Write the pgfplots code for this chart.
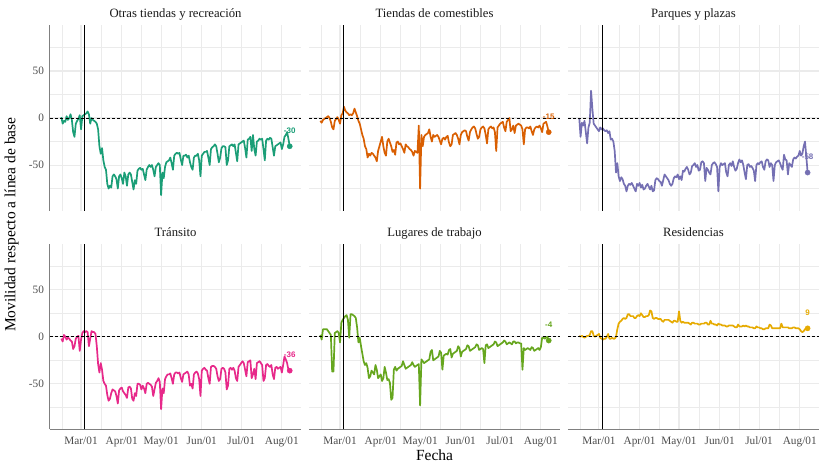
\documentclass[border=0pt]{standalone}
\usepackage{pgfplots}
\usepackage{pgfplotstable}
\usepackage{fontspec}
\pgfplotsset{compat=1.18}
\setmainfont{Liberation Serif}
\newfontfamily\lsans{Liberation Sans}

\definecolor{c1}{HTML}{1B9E77}
\definecolor{c2}{HTML}{D95F02}
\definecolor{c3}{HTML}{7570B3}
\definecolor{c4}{HTML}{E7298A}
\definecolor{c5}{HTML}{66A61E}
\definecolor{c6}{HTML}{E6AB02}
\definecolor{gridc}{HTML}{EBEBEB}

% d = dias desde 2020-03-01
\pgfplotstableread{
d v1 v2 v3 v4 v5 v6
-15 1 -3 0 -2 2 1
-14 -6 -5 -20 -5 -3 0
-13 -3 -2 -5 2 8 1
-12 -4 -1 -8 0 8 0
-11 2 0 -3 -3 8 -1
-10 -2 1 -15 -1 8 0
-9 0 2 -27 -2 6 1
-8 4 0 -10 -4 4 1
-7 -2 -4 -5 -5 2 2
-6 -15 -10 29 -13 -37 6
-5 -20 -12 10 -10 -37 6
-4 -6 -3 -6 -2 4 1
-3 -3 -1 -8 0 5 0
-2 -1 1 -10 1 6 1
-1 3 -2 -12 -15 4 2
0 -12 -6 -14 -3 -6 3
1 2 3 -10 4 15 -1
2 3 5 -12 6 18 -2
3 4 12 -11 5 20 -3
4 5 8 -13 6 22 -2
5 7 6 -14 5 23 -2
6 4 5 -13 -10 18 0
7 -6 3 -16 -2 -1 3
8 0 4 -14 6 24 -2
9 -2 3 -23 5 24 -2
10 -3 5 -22 5 23 -1
11 -4 10 -25 3 22 -2
12 -6 6 -35 -10 20 -2
13 -12 2 -58 -29 10 0
14 -30 -3 -48 -38 -6 8
15 -38 -6 -62 -28 -1 14
16 -32 -12 -67 -35 -10 16
17 -45 -18 -63 -47 -18 17
18 -52 -22 -65 -50 -26 19
19 -55 -30 -70 -52 -30 20
20 -70 -33 -72 -62 -28 19
21 -75 -42 -78 -68 -33 20
22 -72 -38 -72 -66 -44 24
23 -74 -40 -70 -60 -42 24
24 -62 -37 -71 -56 -36 22
25 -60 -38 -69 -57 -38 22
26 -62 -40 -72 -58 -40 22
27 -65 -42 -75 -63 -30 20
28 -75 -46 -78 -71 -35 20
29 -62 -35 -70 -57 -44 22
30 -60 -30 -72 -55 -42 23
31 -64 -25 -69 -54 -40 22
32 -70 -20 -74 -58 -47 25
33 -58 -30 -71 -60 -44 23
34 -62 -37 -76 -62 -32 21
35 -72 -40 -75 -65 -38 21
36 -60 -25 -72 -54 -46 22
37 -58 -22 -70 -53 -45 22
38 -60 -26 -73 -55 -49 23
39 -68 -30 -76 -66 -67 28
40 -76 -36 -72 -68 -65 27
41 -66 -34 -78 -60 -35 20
42 -70 -39 -77 -63 -32 19
43 -56 -26 -66 -50 -36 20
44 -54 -25 -64 -50 -34 20
45 -53 -28 -65 -51 -33 19
46 -55 -27 -67 -56 -32 19
47 -54 -30 -68 -52 -31 19
48 -60 -33 -72 -55 -26 17
49 -66 -37 -66 -60 -30 16
50 -55 -28 -60 -50 -34 18
51 -52 -30 -62 -49 -33 18
52 -50 -31 -64 -50 -32 18
53 -52 -33 -66 -51 -31 18
54 -50 -34 -70 -53 -30 17
55 -55 -36 -72 -63 -27 16
56 -62 -40 -70 -56 -30 15
57 -52 -35 -64 -49 -32 17
58 -50 -36 -62 -47 -31 17
59 -48 -37 -63 -44 -30 16
60 -50 -8 -60 -48 -29 16
61 -82 -75 -65 -77 -73 27
62 -58 -18 -62 -55 -24 17
63 -64 -30 -66 -60 -26 15
64 -52 -20 -56 -45 -28 16
65 -47 -18 -57 -42 -27 15
66 -46 -17 -54 -40 -26 15
67 -45 -16 -52 -40 -25 15
68 -42 -12 -55 -39 -24 15
69 -48 -20 -60 -44 -16 14
70 -55 -25 -58 -50 -14 13
71 -40 -18 -51 -40 -25 15
72 -38 -20 -50 -38 -24 15
73 -37 -19 -48 -38 -23 14
74 -38 -18 -52 -39 -22 14
75 -37 -20 -50 -38 -21 14
76 -44 -24 -56 -44 -15 13
77 -50 -28 -55 -48 -17 13
78 -40 -22 -47 -40 -35 14
79 -40 -21 -46 -39 -20 14
80 -39 -23 -48 -38 -19 14
81 -42 -20 -67 -37 -18 15
82 -40 -19 -53 -40 -19 15
83 -47 -26 -55 -52 -14 13
84 -52 -30 -58 -50 -13 13
85 -55 -28 -60 -55 -22 17
86 -42 -18 -50 -40 -18 14
87 -40 -17 -48 -38 -17 14
88 -40 -16 -47 -37 -16 13
89 -38 -18 -49 -39 -15 13
90 -45 -22 -52 -45 -10 12
91 -62 -28 -78 -63 -12 14
92 -40 -18 -52 -36 -21 13
93 -38 -15 -48 -34 -16 13
94 -36 -14 -50 -33 -15 12
95 -36 -13 -49 -35 -14 12
96 -35 -14 -48 -36 -13 12
97 -42 -20 -58 -44 -9 11
98 -50 -24 -62 -50 -10 11
99 -33 -15 -50 -32 -15 12
100 -31 -12 -48 -31 -14 12
101 -30 -10 -51 -31 -13 12
102 -28 -9 -46 -32 -12 12
103 -30 -11 -52 -34 -11 11
104 -38 -17 -56 -42 -8 10
105 -47 -22 -54 -47 -9 10
106 -42 -20 -48 -45 -14 13
107 -32 -12 -44 -34 -13 11
108 -30 -10 -47 -33 -12 11
109 -30 -9 -45 -34 -13 11
110 -31 -11 -50 -38 -28 12
111 -50 -18 -58 -56 -9 11
112 -45 -27 -65 -52 -8 12
113 -30 -12 -50 -34 -12 11
114 -29 -10 -49 -33 -11 11
115 -28 -9 -52 -35 -10 10
116 -30 -11 -51 -33 -9 10
117 -28 -10 -53 -36 -8 10
118 -37 -15 -56 -44 -5 9
119 -46 -35 -67 -47 -6 9
120 -28 -10 -50 -32 -10 11
121 -27 -8 -48 -30 -9 10
122 -26 -6 -49 -28 -8 10
123 -25 -5 -47 -26 -7 9
124 -24 -4 -46 -28 -6 9
125 -32 -10 -52 -35 -4 8
126 -42 -14 -55 -42 -5 8
127 -23 -4 -46 -27 -8 9
128 -22 -2 -44 -26 -7 9
129 -20 0 -45 -25 -6 9
130 -35 -14 -52 -44 -7 13
131 -18 -12 -48 -40 -8 12
132 -33 -8 -50 -34 -5 9
133 -40 -16 -67 -45 -5 9
134 -25 -8 -50 -28 -7 9
135 -24 -7 -47 -27 -6 9
136 -22 -6 -46 -26 -6 9
137 -23 -7 -45 -28 -7 9
138 -22 -8 -48 -30 -7 9
139 -33 -12 -52 -47 -35 14
140 -45 -28 -55 -44 -12 10
141 -24 -12 -39 -30 -14 10
142 -22 -10 -44 -29 -13 10
143 -23 -10 -45 -31 -12 10
144 -21 -11 -60 -32 -13 10
145 -22 -9 -48 -30 -14 9
146 -31 -14 -50 -40 -11 9
147 -40 -18 -52 -45 -12 9
148 -30 -12 -44 -33 -15 10
149 -29 -10 -42 -32 -14 10
150 -28 -9 -43 -34 -13 9
151 -27 -10 -41 -33 -12 9
152 -26 -8 -40 -32 -14 9
153 -33 -11 -35 -38 -11 8
154 -28 -15 -40 -30 -1 6
155 -20 -6 -38 -21 -1 5
156 -18 -5 -30 -24 -2 6
157 -15 -4 -25 -28 -1 8
158 -22 -9 -41 -35 0 9
159 -30 -15 -58 -36 -4 9
}\datos

\pgfplotsset{
  panel/.style={
    scale only axis, width=251.5pt, height=186pt, anchor=south west,
    xmin=-23.7, xmax=167.7, ymin=-98.6, ymax=99,
    xtick={0,31,61,92,122,153},
    xticklabels={Mar/01,Apr/01,May/01,Jun/01,Jul/01,Aug/01},
    ytick={-50,0,50}, yticklabels={-50,0,50},
    minor xtick={-14.5,15.5,46,76.5,107,137.5},
    minor ytick={-75,-25,25,75},
    grid=both,
    major grid style={draw=gridc, line width=1.1pt},
    minor grid style={draw=gridc, line width=0.6pt},
    separate axis lines,
    axis x line*=bottom, axis y line*=left,
    axis line style={draw=black!50, line width=0.9pt},
    tick style={draw=none},
    ticklabel style={font=\fontsize{11.3}{13}\selectfont, text=black!70},
    xticklabel style={yshift=-4pt},
    yticklabel style={xshift=-2.5pt},
    title style={at={(0.5,1)}, anchor=base, yshift=1.5pt,
      font=\fontsize{12.7}{14}\selectfont, text=black!90},
  },
  nox/.style={x axis line style={draw=none}, xticklabels={}},
  noy/.style={y axis line style={draw=none}, yticklabels={}},
  serie/.style={#1, line width=1.7pt, line join=round},
  zeroline/.style={black, line width=0.7pt, dash pattern=on 3pt off 2.2pt},
  vline/.style={black, line width=1.0pt},
  fin/.style={#1, only marks, mark=*, mark size=2.6pt,
    every node near coord/.style={anchor=center, yshift=15.5pt,
      font=\lsans\bfseries\fontsize{8}{9}\selectfont, text=#1}},
}

\begin{document}
\begin{tikzpicture}
\path (0,0) rectangle (820pt,464pt);

\begin{axis}[panel, nox, at={(50pt,253pt)}, title={Otras tiendas y recreación}]
\addplot[serie=c1] table[x=d, y=v1] {\datos};
\addplot[zeroline] coordinates {(-23.7,0) (167.7,0)};
\addplot[vline] coordinates {(3,-98.6) (3,99)};
\addplot[fin=c1, nodes near coords={-30}] coordinates {(159,-30)};
\end{axis}

\begin{axis}[panel, nox, noy, at={(309.3pt,253pt)}, title={Tiendas de comestibles}]
\addplot[serie=c2] table[x=d, y=v2] {\datos};
\addplot[zeroline] coordinates {(-23.7,0) (167.7,0)};
\addplot[vline] coordinates {(3,-98.6) (3,99)};
\addplot[fin=c2, nodes near coords={-15}] coordinates {(159,-15)};
\end{axis}

\begin{axis}[panel, nox, noy, at={(568.5pt,253pt)}, title={Parques y plazas}]
\addplot[serie=c3] table[x=d, y=v3] {\datos};
\addplot[zeroline] coordinates {(-23.7,0) (167.7,0)};
\addplot[vline] coordinates {(3,-98.6) (3,99)};
\addplot[fin=c3, nodes near coords={-58}] coordinates {(159,-58)};
\end{axis}

\begin{axis}[panel, at={(50pt,34pt)}, title={Tránsito}]
\addplot[serie=c4] table[x=d, y=v4] {\datos};
\addplot[zeroline] coordinates {(-23.7,0) (167.7,0)};
\addplot[vline] coordinates {(3,-98.6) (3,99)};
\addplot[fin=c4, nodes near coords={-36}] coordinates {(159,-36)};
\end{axis}

\begin{axis}[panel, noy, at={(309.3pt,34pt)}, title={Lugares de trabajo},
  xlabel={Fecha}, xlabel style={font=\fontsize{15.5}{17}\selectfont, at={(0.5,0)}, anchor=base, yshift=-31pt}]
\addplot[serie=c5] table[x=d, y=v5] {\datos};
\addplot[zeroline] coordinates {(-23.7,0) (167.7,0)};
\addplot[vline] coordinates {(3,-98.6) (3,99)};
\addplot[fin=c5, nodes near coords={-4}] coordinates {(159,-4)};
\end{axis}

\begin{axis}[panel, noy, at={(568.5pt,34pt)}, title={Residencias}]
\addplot[serie=c6] table[x=d, y=v6] {\datos};
\addplot[zeroline] coordinates {(-23.7,0) (167.7,0)};
\addplot[vline] coordinates {(3,-98.6) (3,99)};
\addplot[fin=c6, nodes near coords={9}] coordinates {(159,9)};
\end{axis}

\node[rotate=90, anchor=base, font=\fontsize{15.5}{17}\selectfont] at (15.5pt,239pt)
  {Movilidad respecto a línea de base};
\end{tikzpicture}
\end{document}
